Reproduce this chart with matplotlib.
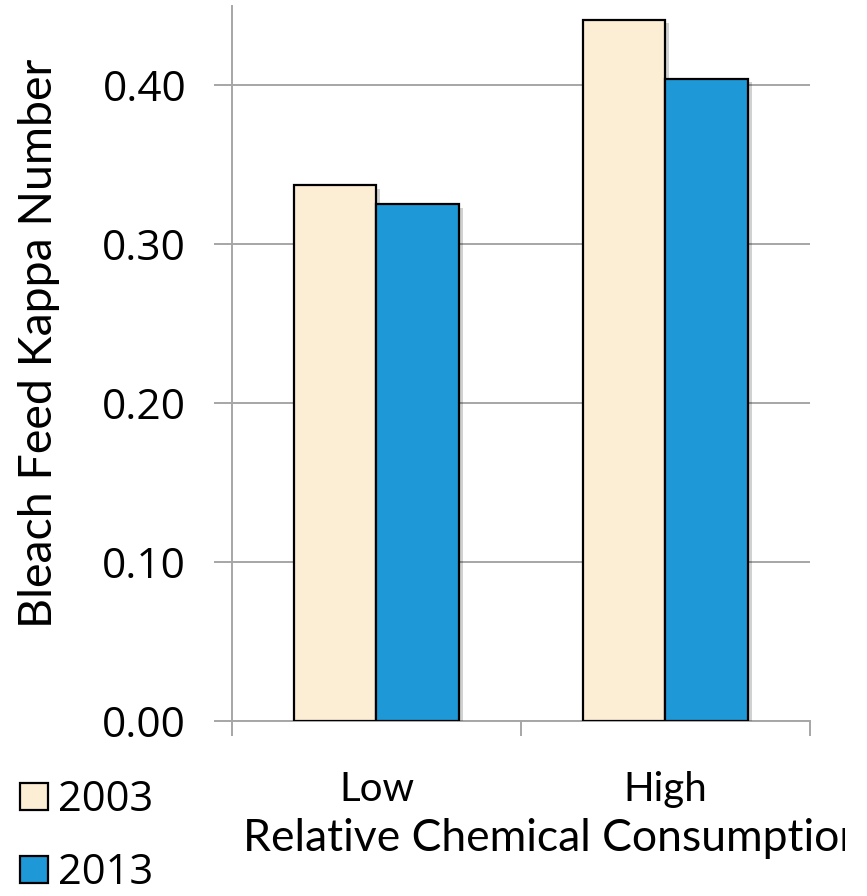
import matplotlib
matplotlib.use("Agg")
import matplotlib.pyplot as plt
import numpy as np
from matplotlib.patches import Patch
from matplotlib.transforms import Bbox
import matplotlib.patheffects as pe

categories = ["Low", "High"]
years = ["2003", "2013"]
values_2003 = [0.337, 0.441]
values_2013 = [0.325, 0.404]
yticks = [0.00, 0.10, 0.20, 0.30, 0.40]

colors = {"2003": "#FCEDD5", "2013": "#1F98D7"}
grid_gray = "#A6A6A6"

W, H = 867, 896
fig = plt.figure(figsize=(W / 100, H / 100), dpi=100)
ax = fig.add_axes([232 / W, 1 - 720.5 / H, (810 - 232) / W, (720.5 - 5.6) / H])

x = np.arange(len(categories))
bw = 0.287
shadow = [pe.SimplePatchShadow(offset=(2.5, -2.5), alpha=0.18, shadow_rgbFace="black"), pe.Normal()]
for i, (yr, vals) in enumerate(zip(years, [values_2003, values_2013])):
    bars = ax.bar(x + (i - 0.5) * bw, vals, width=bw, color=colors[yr],
                  edgecolor="black", linewidth=1.6, zorder=3, label=yr)
    for b in bars:
        b.set_path_effects(shadow)

ax.set_xlim(-0.5, 1.5)
ax.set_ylim(0, 0.45)
ax.set_yticks(yticks)
ax.set_yticklabels([f"{v:.2f}" for v in yticks], family="Open Sans", fontsize=30.5)
ax.yaxis.grid(True, color=grid_gray, linewidth=1.4, zorder=0)
ax.tick_params(axis="y", length=13, width=1.4, color=grid_gray, pad=20)

ax.set_xticks(x)
ax.set_xticklabels(categories, family="Lato", fontsize=29)
ax.set_xticks([-0.5, 0.5, 1.5], minor=True)
ax.tick_params(axis="x", which="major", length=0, pad=36)
ax.tick_params(axis="x", which="minor", length=11, width=1.4, color=grid_gray)

for s in ["top", "right"]:
    ax.spines[s].set_visible(False)
for s in ["left", "bottom"]:
    ax.spines[s].set_color(grid_gray)
    ax.spines[s].set_linewidth(1.4)

ax.set_ylabel("Bleach Feed Kappa Number", family="Lato", fontsize=33.5)
ax.yaxis.set_label_coords((60 - 232) / 578, (720.5 - 343) / 714.9)

xl = fig.text(243 / W, 1 - 838 / H, "Relative Chemical Consumption", family="Lato",
              fontsize=32, ha="left", va="center")
xl.set_clip_box(Bbox.from_extents(0, 0, 845, H))
xl.set_clip_on(True)

handles = [Patch(facecolor=colors[y], edgecolor="black", linewidth=1.6) for y in years]
fig.legend(handles, years, loc="upper left", bbox_to_anchor=(20 / W, 1 - 779 / H),
           frameon=False, prop={"family": "Open Sans", "size": 30},
           handlelength=0.66, handleheight=0.63, handletextpad=0.25,
           labelspacing=0.74, borderpad=0, borderaxespad=0)

fig.savefig("out.png", dpi=100)
